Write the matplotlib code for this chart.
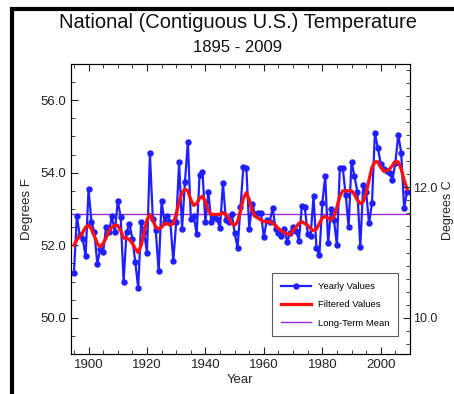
#_*_coding:utf-8_*_
# National (Contiguous U.S.) Temperature, 1895 - 2009
import numpy
import matplotlib
matplotlib.use('Agg')
from matplotlib import pyplot as plt
from matplotlib.patches import Rectangle
from matplotlib.ticker import MultipleLocator, FormatStrFormatter

plt.rcParams['font.family'] = ['Liberation Sans', 'DejaVu Sans']

years = list(range(1895, 2010))

# yearly values, degrees F
yearly = [
	51.23, 52.81, 52.27, 52.18, 51.69, 53.55, 52.64, 52.36, 51.48, 51.90,
	51.81, 52.50, 52.36, 52.81, 52.36, 53.22, 52.78, 51.00, 52.36, 52.59,
	52.18, 51.53, 50.82, 52.64, 52.36, 51.79, 54.54, 52.73, 52.41, 51.28,
	53.22, 52.64, 52.82, 52.64, 51.56, 52.64, 54.29, 52.45, 53.75, 54.86,
	52.73, 52.82, 52.30, 53.93, 54.01, 52.64, 53.47, 52.64, 52.78, 52.73,
	52.47, 53.72, 52.69, 52.64, 52.87, 52.35, 51.92, 53.05, 54.17, 54.14,
	52.46, 53.15, 52.85, 52.90, 52.88, 52.22, 52.70, 52.65, 53.03, 52.45,
	52.35, 52.25, 52.45, 52.10, 52.35, 52.50, 52.40, 52.13, 53.08, 53.05,
	52.32, 52.25, 53.36, 51.92, 51.72, 53.16, 53.90, 52.05, 53.00, 52.70,
	52.00, 54.13, 54.13, 53.39, 52.51, 54.31, 53.90, 53.48, 51.95, 53.67,
	53.48, 52.60, 53.16, 55.10, 54.69, 54.25, 54.10, 54.05, 54.00, 53.80,
	54.27, 55.05, 54.55, 53.02, 53.48,
]

# filtered values (red curve)
filtered = [
	52.00, 52.15, 52.25, 52.35, 52.50, 52.55, 52.45, 52.25, 52.05, 51.95,
	52.05, 52.20, 52.40, 52.50, 52.55, 52.55, 52.40, 52.20, 52.20, 52.15,
	52.05, 51.90, 51.80, 52.00, 52.35, 52.70, 52.85, 52.70, 52.50, 52.45,
	52.50, 52.60, 52.60, 52.55, 52.60, 52.85, 53.20, 53.45, 53.55, 53.50,
	53.25, 53.10, 53.15, 53.30, 53.35, 53.20, 52.95, 52.85, 52.85, 52.85,
	52.85, 52.90, 52.85, 52.75, 52.60, 52.55, 52.65, 52.95, 53.30, 53.45,
	53.25, 52.95, 52.80, 52.75, 52.70, 52.65, 52.65, 52.65, 52.60, 52.55,
	52.45, 52.40, 52.35, 52.30, 52.30, 52.40, 52.50, 52.60, 52.65, 52.60,
	52.55, 52.45, 52.40, 52.45, 52.60, 52.75, 52.80, 52.75, 52.70, 52.80,
	53.05, 53.35, 53.50, 53.50, 53.50, 53.50, 53.40, 53.25, 53.15, 53.20,
	53.45, 53.80, 54.15, 54.30, 54.30, 54.15, 54.05, 54.05, 54.10, 54.20,
	54.30, 54.30, 54.10, 53.80, 53.55,
]

long_term_mean = 52.85

fig = plt.figure(figsize=(4.54, 3.94), dpi=100)
ax = fig.add_axes([0.1564, 0.1015, 0.7466, 0.7361])

ax.plot(years, yearly, color='#1f1fff', lw=1.6, marker='o', ms=3.6, label='Yearly Values', zorder=3)
ax.plot(years, filtered, color='#ff1010', lw=2.4, label='Filtered Values', zorder=4)
ax.axhline(long_term_mean, color='#9a2bd0', lw=1.0, label='Long-Term Mean', zorder=2)

ax.set_xlim(1894, 2010)
ax.set_ylim(49, 57)
ax.xaxis.set_major_locator(MultipleLocator(20))
ax.xaxis.set_minor_locator(MultipleLocator(5))
ax.yaxis.set_major_locator(MultipleLocator(2))
ax.yaxis.set_minor_locator(MultipleLocator(0.5))
ax.yaxis.set_major_formatter(FormatStrFormatter('%.1f'))
ax.tick_params(which='both', direction='in', top=True, right=False, labelsize=9.5, colors='#222222')
ax.tick_params(which='major', length=5, width=0.8)
ax.tick_params(which='minor', length=3, width=0.6)
for s in ax.spines.values():
	s.set_color('#333333')
	s.set_linewidth(0.8)

ax.set_xlabel('Year', fontsize=9.5, labelpad=2, color='#222222')
ax.set_ylabel('Degrees F', fontsize=9.5, labelpad=5, color='#222222')

# celsius axis on the right
ax2 = ax.twinx()
ax2.set_ylim((49 - 32) * 5.0 / 9.0, (57 - 32) * 5.0 / 9.0)
ax2.yaxis.set_major_locator(MultipleLocator(2))
ax2.yaxis.set_minor_locator(MultipleLocator(0.2))
ax2.yaxis.set_major_formatter(FormatStrFormatter('%.1f'))
ax2.tick_params(which='both', direction='in', labelsize=9, pad=2, colors='#222222')
ax2.tick_params(which='major', length=5, width=0.8)
ax2.tick_params(which='minor', length=3, width=0.6)
fig.text(448 / 454.0, 0.467, 'Degrees C', rotation=90, ha='center', va='center', fontsize=9, color='#222222')

leg = ax.legend(loc='lower right', bbox_to_anchor=(0.98, 0.045), fontsize=6.8, frameon=True,
	fancybox=False, edgecolor='#333333', handlelength=3.2, borderpad=0.9, labelspacing=1.0)
leg.get_frame().set_linewidth(0.8)

fig.text(0.524, 0.944, 'National (Contiguous U.S.) Temperature', ha='center', va='center', fontsize=14.5, color='#111111')
fig.text(0.524, 0.880, '1895 - 2009', ha='center', va='center', fontsize=12, color='#111111')

# black frame of the original page, cut at right and bottom
fig.patches.append(Rectangle((12 / 454.0, -0.1), 1.2, 1.1 - 9 / 394.0, transform=fig.transFigure,
	fill=False, edgecolor='black', lw=3))

fig.savefig('out.png', dpi=100, facecolor='white')
